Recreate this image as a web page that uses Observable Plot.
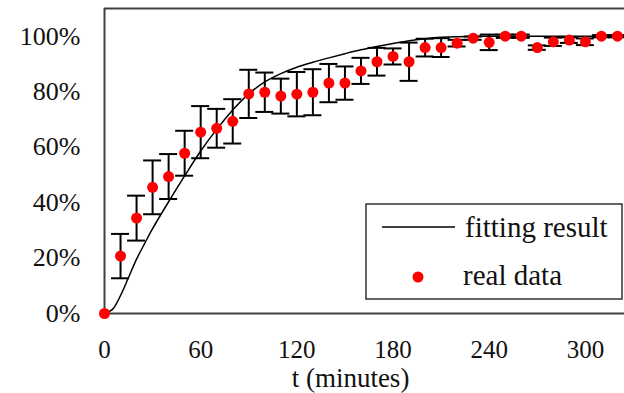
<!DOCTYPE html>
<html><head><meta charset="utf-8">
<script src="https://cdn.jsdelivr.net/npm/d3@7"></script>
<script src="https://cdn.jsdelivr.net/npm/@observablehq/plot@0.6"></script>
<style>html,body{margin:0;padding:0;background:#fff;overflow:hidden}</style>
</head><body><div id="chart"></div>
<script>
// Measured data (percent) every 10 minutes
const times = [0,10,20,30,40,50,60,70,80,90,100,110,120,130,140,150,160,170,180,190,200,210,220,230,240,250,260,270,280,290,300,310,320];
const realData = [0,20.7,34.4,45.5,49.4,57.8,65.4,66.8,69.3,79.2,79.8,78.4,79.1,79.8,83.1,83.1,87.5,90.8,92.7,90.8,95.9,95.9,97.5,99.3,97.8,100,100,95.9,98,98.6,98,100,100];
const errorBars = [0,8.0,8.1,9.7,8.1,8.1,9.4,7.0,8.0,8.7,7.1,6.3,8.0,8.3,6.9,6.0,4.7,5.0,2.9,6.9,3.2,3.4,1.2,0.6,2.8,0.6,0.6,0.8,1.5,1.0,1.2,0.4,0.4];
// Fitted curve
const fitTimes = [0,5,10,15,20,25,30,40,50,60,70,80,90,100,110,120,130,140,150,160,170,180,190,200,210,220,240,270,300,325];
const fitValues = [0,1.5,6.5,13,19.6,25.2,30.6,40.3,49.6,58.6,66.4,73.4,79.2,83.5,86.5,88.8,90.6,92.2,93.7,95.1,96.3,97.4,98.4,99.1,99.6,99.85,100,100,100,100];
// Axis ticks
const xTicks = [0,60,120,180,240,300];
const yTicks = [0,20,40,60,80,100];
const xLabel = "t (minutes)";
const legendLabels = ["fitting result", "real data"];

const table = times.map((t, i) => ({t, v: realData[i], e: errorBars[i]}));
const bars = table.filter(d => d.e > 0);
const fit = fitTimes.map((t, i) => ({t, v: fitValues[i]}));

const serif = "'Liberation Serif','Times New Roman',serif";
const axisColor = "#404040";

const chart = Plot.plot({
  width: 624, height: 393,
  marginLeft: 104, marginRight: 0, marginTop: 8, marginBottom: 80,
  style: {fontFamily: serif, fontSize: "26px", color: "#111", background: "#fff", overflow: "visible"},
  x: {domain: [0, 324.4]},
  y: {domain: [0, 110]},
  marks: [
    Plot.axisY(yTicks, {tickSize: 0, tickPadding: 24, tickFormat: d => d + "%", fontSize: 26, label: null}),
    Plot.axisX(xTicks, {tickSize: 0, tickPadding: 27, fontSize: 25, label: null}),
    Plot.ruleX([0], {stroke: axisColor, strokeWidth: 2}),
    Plot.ruleY([0, 110], {stroke: axisColor, strokeWidth: 2}),
    Plot.line(fit, {x: "t", y: "v", curve: "catmull-rom", stroke: "#000", strokeWidth: 1.5}),
    Plot.ruleX(bars, {x: "t", y1: d => d.v - d.e, y2: d => d.v + d.e, stroke: "#000", strokeWidth: 2}),
    Plot.ruleY(bars, {y: d => d.v + d.e, x1: "t", x2: "t", insetLeft: -9, insetRight: -9, stroke: "#000", strokeWidth: 2}),
    Plot.ruleY(bars, {y: d => d.v - d.e, x1: "t", x2: "t", insetLeft: -9, insetRight: -9, stroke: "#000", strokeWidth: 2}),
    Plot.dot(table, {x: "t", y: "v", r: 5.5, fill: "#ff0000", stroke: "none"}),
    Plot.text([xLabel], {text: d => d, frameAnchor: "bottom", dx: -14, dy: 65, fontSize: 27, lineAnchor: "middle"})
  ]
});
document.getElementById("chart").appendChild(chart);

// Legend box
const svg = d3.select(chart);
const g = svg.append("g");
g.append("rect").attr("x", 366).attr("y", 204).attr("width", 256).attr("height", 95)
  .attr("fill", "#fff").attr("stroke", "#333").attr("stroke-width", 1.5);
g.append("line").attr("x1", 382).attr("x2", 455).attr("y1", 227).attr("y2", 227)
  .attr("stroke", "#000").attr("stroke-width", 1.5);
g.append("circle").attr("cx", 418).attr("cy", 277).attr("r", 5.5).attr("fill", "#ff0000");
[[465, 237, legendLabels[0]], [463, 285, legendLabels[1]]].forEach(([x, y, s]) => {
  g.append("text").attr("x", x).attr("y", y).text(s)
    .style("font-family", serif).style("font-size", "29px")
    .style("text-anchor", "start").style("fill", "#111");
});
</script>
</body></html>
